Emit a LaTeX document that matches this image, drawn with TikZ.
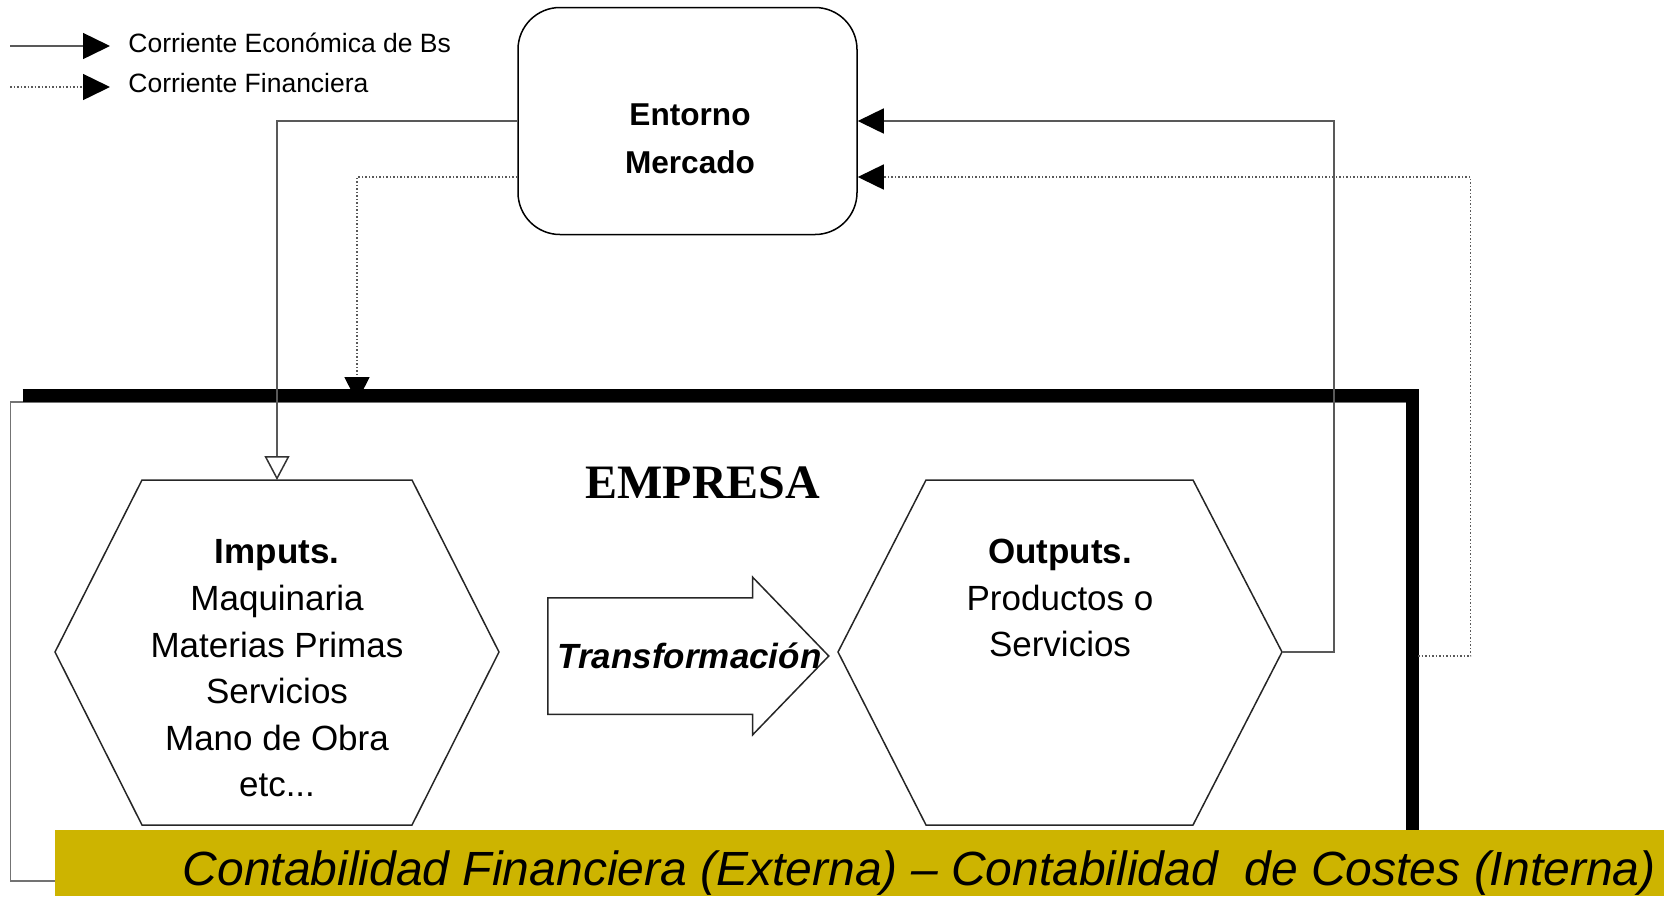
\documentclass[tikz,border=0pt]{standalone}
\usepackage{fontspec}
\setmainfont{Liberation Sans}
\newfontfamily\empresafont{Liberation Serif}
\usetikzlibrary{arrows.meta,shapes.arrows,positioning}
\definecolor{banner}{RGB}{205,180,0}

\begin{document}
\begin{tikzpicture}
    [x=0.5pt, y=-0.5pt,
    eco/.style={draw=black!65, line width=0.75pt},
    fin/.style={draw=black!65, line width=0.75pt, densely dotted},
    tip/.style={-{Triangle[length=13pt, width=12.5pt, color=black]}},
    hexa/.style={draw=black!85, line width=0.75pt, line join=miter},
    txt/.style={font=\fontsize{17.5}{23.3}\selectfont, align=center, inner sep=0pt},
    leyenda/.style={anchor=base west, inner sep=0pt, font=\fontsize{13.25}{16}\selectfont}]
    \useasboundingbox (0,0) rectangle (1664,896);

    % leyenda
    \coordinate (eco-a) at (10,46);
    \coordinate (eco-b) at (110,46);
    \coordinate (fin-a) at (10,87);
    \coordinate (fin-b) at (110,87);
    \draw [eco, -{Triangle[length=13.5pt, width=13pt, color=black]}] (eco-a) -- (eco-b);
    \draw [fin, -{Triangle[length=13.5pt, width=13pt, color=black]}] (fin-a) -- (fin-b);
    \node [leyenda] (leg-eco) at (128,52) {Corriente Económica de Bs};
    \node [leyenda] (leg-fin) at (128,92) {Corriente Financiera};

    % entorno
    \node [draw=black, line width=0.75pt, rounded corners=21pt,
           minimum width=169.5pt, minimum height=113.5pt] (mercado) at (687.5,121) {};
    \node [font=\bfseries\fontsize{15.8}{24}\selectfont, align=center] (mercado-txt) at (690,138.5) {Entorno\\Mercado};

    % empresa
    \draw [draw=black!55, line width=0.75pt] (1407,402) -- (10.7,402) -- (10.7,881) -- (55,881);
    \draw [line width=6.25pt] (22.7,395.5) -- (1412.5,395.5) -- (1412.5,835);
    \coordinate (emp-n) at (357,402);
    \coordinate (emp-e) at (1418,656);
    \node [anchor=base, inner sep=0pt, font=\empresafont\bfseries\fontsize{24}{28}\selectfont] (empresa) at (703,498) {EMPRESA};

    % imputs
    \coordinate (in-w) at (55,652);
    \coordinate (in-e) at (499,652);
    \coordinate (in-n) at (277,480);
    \draw [hexa] (in-w) -- (142,480) -- (412,480) -- (in-e) -- (412,825) -- (142,825) -- cycle;
    \node [txt] (imputs) at (277,668.5) {\textbf{Imputs.}\\Maquinaria\\Materias Primas\\Servicios\\Mano de Obra\\etc...};

    % outputs
    \coordinate (out-w) at (838,652);
    \coordinate (out-e) at (1282,652);
    \draw [hexa] (out-w) -- (926,480) -- (1193,480) -- (out-e) -- (1193,825) -- (926,825) -- cycle;
    \node [txt] (outputs) at (1060,598) {\textbf{Outputs.}\\Productos o\\Servicios};

    % transformacion
    \node [single arrow, draw=black!85, line width=0.75pt, inner xsep=0pt, inner ysep=28.75pt,
           minimum width=78pt, minimum height=140.5pt, anchor=tail,
           single arrow head extend=10.25pt, single arrow tip angle=92] (transf) at (547,656) {};
    \node [anchor=base, inner sep=0pt, font=\bfseries\itshape\fontsize{17.5}{21}\selectfont] (transf-txt) at (689.5,668) {Transformación};

    % corrientes
    \draw [eco, -{Triangle[open, length=12pt, width=12.5pt, color=black!80]}] (mercado.west) -| (in-n);
    \draw [fin, -{Triangle[length=12.5pt, width=12.5pt, color=black]}] ([yshift=-28pt]mercado.west) -| (emp-n);
    \draw [eco, tip] (out-e) -- ++(52,0) |- (mercado.east);
    \draw [fin, tip] (emp-e) -- ++(52.6,0) |- ([yshift=-28pt]mercado.east);

    % contabilidad
    \node [fill=banner, anchor=north west, inner sep=0pt, minimum width=804.5pt, minimum height=33pt] (franja) at (55,830) {};
    \node [anchor=base west, inner sep=0pt, font=\itshape\fontsize{24}{28}\selectfont] (contab) at (182.5,885)
        {Contabilidad Financiera (Externa) – Contabilidad\ \ de Costes (Interna)};
\end{tikzpicture}
\end{document}
